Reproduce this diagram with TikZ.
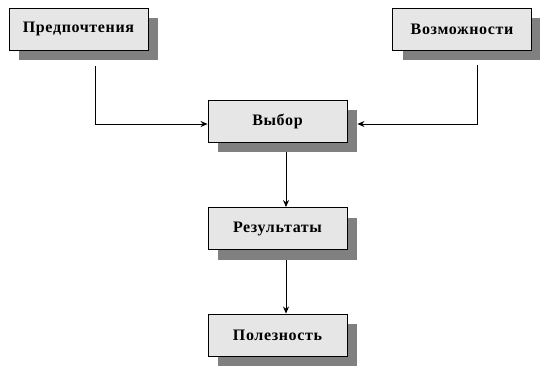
\documentclass[tikz,border=0pt]{standalone}
\usepackage{fontspec}
\setmainfont{Liberation Serif}[LetterSpace=4]
\usetikzlibrary{shadows,arrows.meta}

\tikzset{
    block/.style={draw=black, fill=boxgray, line width=0.9pt,
        minimum width=139pt, minimum height=42pt, inner sep=0pt,
        font=\fontsize{16}{18}\selectfont\bfseries,
        drop shadow={shadow xshift=10pt, shadow yshift=-10pt,
            fill=shadowgray, opacity=1}},
    link/.style={line width=0.8pt, -{Stealth[length=7pt,width=6pt]}}
}
\definecolor{boxgray}{RGB}{230,230,230}
\definecolor{shadowgray}{RGB}{128,128,128}

\begin{document}
\begin{tikzpicture}[x=1pt,y=-1pt]
        \useasboundingbox (0,0) rectangle (540,366);
        \node[block] (pref) at (78.5,29) {Предпочтения};
        \node[block] (poss) at (462,29) {Возможности};
        \node[block] (choice) at (277.5,121) {Выбор};
        \node[block] (res) at (277.5,228.5) {Результаты};
        \node[block] (util) at (277.5,335) {Полезность};
        \coordinate (prefout) at (95,66);
        \coordinate (possout) at (477,65);
        \draw[link] (prefout) |- ([yshift=-3pt]choice.west);
        \draw[link] (possout) |- ([xshift=10pt,yshift=-3pt]choice.east);
        \draw[link] ([xshift=8.5pt,yshift=-10pt]choice.south) -- ([xshift=8.5pt]res.north);
        \draw[link] ([xshift=8.5pt,yshift=-10pt]res.south) -- ([xshift=8.5pt]util.north);
    \end{tikzpicture}
\end{document}
